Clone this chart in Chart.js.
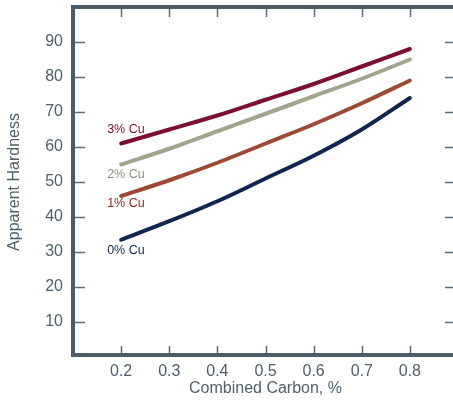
<!DOCTYPE html>
<html>
<head>
<meta charset="utf-8">
<script src="https://cdn.jsdelivr.net/npm/chart.js@4"></script>
<style>
  html, body { margin: 0; padding: 0; background: #fff; overflow: hidden; }
  #wrap { width: 462px; height: 400px; }
</style>
</head>
<body>
<div id="wrap"><canvas id="myChart" width="462" height="400"></canvas></div>
<script>
const carbon = [0.2, 0.3, 0.4, 0.5, 0.6, 0.7, 0.8];
const cu3 = [61, 65, 69, 73.5, 78, 83, 88];
const cu2 = [55, 59.5, 64.5, 69.5, 74.5, 79.5, 85];
const cu1 = [46, 50.5, 55.5, 61, 66.5, 72.5, 79];
const cu0 = [33.5, 38.8, 44.5, 51, 57.5, 65, 74];
const seriesNames = ['3% Cu', '2% Cu', '1% Cu', '0% Cu'];
const xTicks = [0.2, 0.3, 0.4, 0.5, 0.6, 0.7, 0.8];
const yTicks = [10, 20, 30, 40, 50, 60, 70, 80, 90];

const frameColor = '#4d5d68';
const textColor = '#4f5f6a';
const fontFam = '"Liberation Sans", Arial, sans-serif';
const lineColors = ['#7b0f30', '#a4a48d', '#9d4a34', '#10264e'];
const labelColors = ['#7b0f30', '#8f8f7c', '#8a2a1a', '#10264e'];
// label offsets relative to first point (px)
const labelOffsets = [[-14, -14], [-14, 10], [-14, 8], [-14, 11]];

const toPoints = (vals) => vals.map((v, i) => ({x: carbon[i], y: v}));

const frame = {
    id: 'frame',
    afterDatasetsDraw(chart) {
        const {ctx, chartArea: a, scales: {x, y}} = chart;
        ctx.save();
        // tick marks inside the frame
        ctx.strokeStyle = '#5c6c76';
        ctx.lineWidth = 1.5;
        ctx.beginPath();
        yTicks.forEach(v => {
            const py = Math.round(y.getPixelForValue(v)) + 0.5;
            ctx.moveTo(a.left, py); ctx.lineTo(a.left + 12, py);
            ctx.moveTo(a.right - 13, py); ctx.lineTo(a.right, py);
        });
        xTicks.forEach(v => {
            const px = Math.round(x.getPixelForValue(v)) + 0.5;
            ctx.moveTo(px, a.bottom); ctx.lineTo(px, a.bottom - 11);
            ctx.moveTo(px, a.top); ctx.lineTo(px, a.top + 10);
        });
        ctx.stroke();
        // thick frame
        ctx.strokeStyle = frameColor;
        ctx.lineWidth = 4;
        ctx.strokeRect(a.left, a.top, a.right - a.left, a.bottom - 2 - a.top);
        // series labels
        ctx.font = '12.5px ' + fontFam;
        ctx.textBaseline = 'middle';
        ctx.textAlign = 'left';
        chart.data.datasets.forEach((ds, i) => {
            const p = ds.data[0];
            ctx.fillStyle = labelColors[i];
            ctx.fillText(seriesNames[i], x.getPixelForValue(p.x) + labelOffsets[i][0],
                y.getPixelForValue(p.y) + labelOffsets[i][1]);
        });
        ctx.restore();
    }
};

const mkSet = (vals, i) => ({
    label: seriesNames[i],
    data: toPoints(vals),
    borderColor: lineColors[i],
    backgroundColor: lineColors[i],
    borderWidth: 4,
    borderCapStyle: 'round',
    pointRadius: 0,
    cubicInterpolationMode: 'monotone',
});

new Chart(document.getElementById('myChart'), {
    type: 'line',
    data: {
        datasets: [mkSet(cu3, 0), mkSet(cu2, 1), mkSet(cu1, 2), mkSet(cu0, 3)]
    },
    options: {
        responsive: false,
        animation: false,
        layout: { padding: { top: 7, right: 4, left: 0, bottom: 0 } },
        plugins: { legend: { display: false }, tooltip: { enabled: false } },
        scales: {
            x: {
                type: 'linear',
                min: 0.1,
                max: 0.9,
                afterBuildTicks: (s) => { s.ticks = xTicks.map(v => ({value: v})); },
                afterFit: (s) => { s.height = 43; s.paddingLeft = 0; s.paddingRight = 0; },
                border: { display: false },
                grid: { display: false, drawTicks: false },
                ticks: {
                    color: textColor,
                    padding: 5,
                    maxRotation: 0,
                    font: { size: 16, family: fontFam },
                    callback: (v) => Number(v).toFixed(1)
                },
                title: {
                    display: true,
                    text: 'Combined Carbon, %',
                    color: textColor,
                    padding: { top: 2, bottom: 2 },
                    font: { size: 16, family: fontFam }
                }
            },
            y: {
                min: 0,
                max: 100,
                afterBuildTicks: (s) => { s.ticks = yTicks.map(v => ({value: v})); },
                afterFit: (s) => { s.width = 73; s.paddingTop = 0; s.paddingBottom = 0; },
                border: { display: false },
                grid: { display: false, drawTicks: false },
                ticks: {
                    color: textColor,
                    padding: 10,
                    font: { size: 16, family: fontFam }
                },
                title: {
                    display: true,
                    text: 'Apparent Hardness',
                    color: textColor,
                    padding: { top: 5, bottom: 2 },
                    font: { size: 16, family: fontFam }
                }
            }
        }
    },
    plugins: [frame]
});
</script>
</body>
</html>
